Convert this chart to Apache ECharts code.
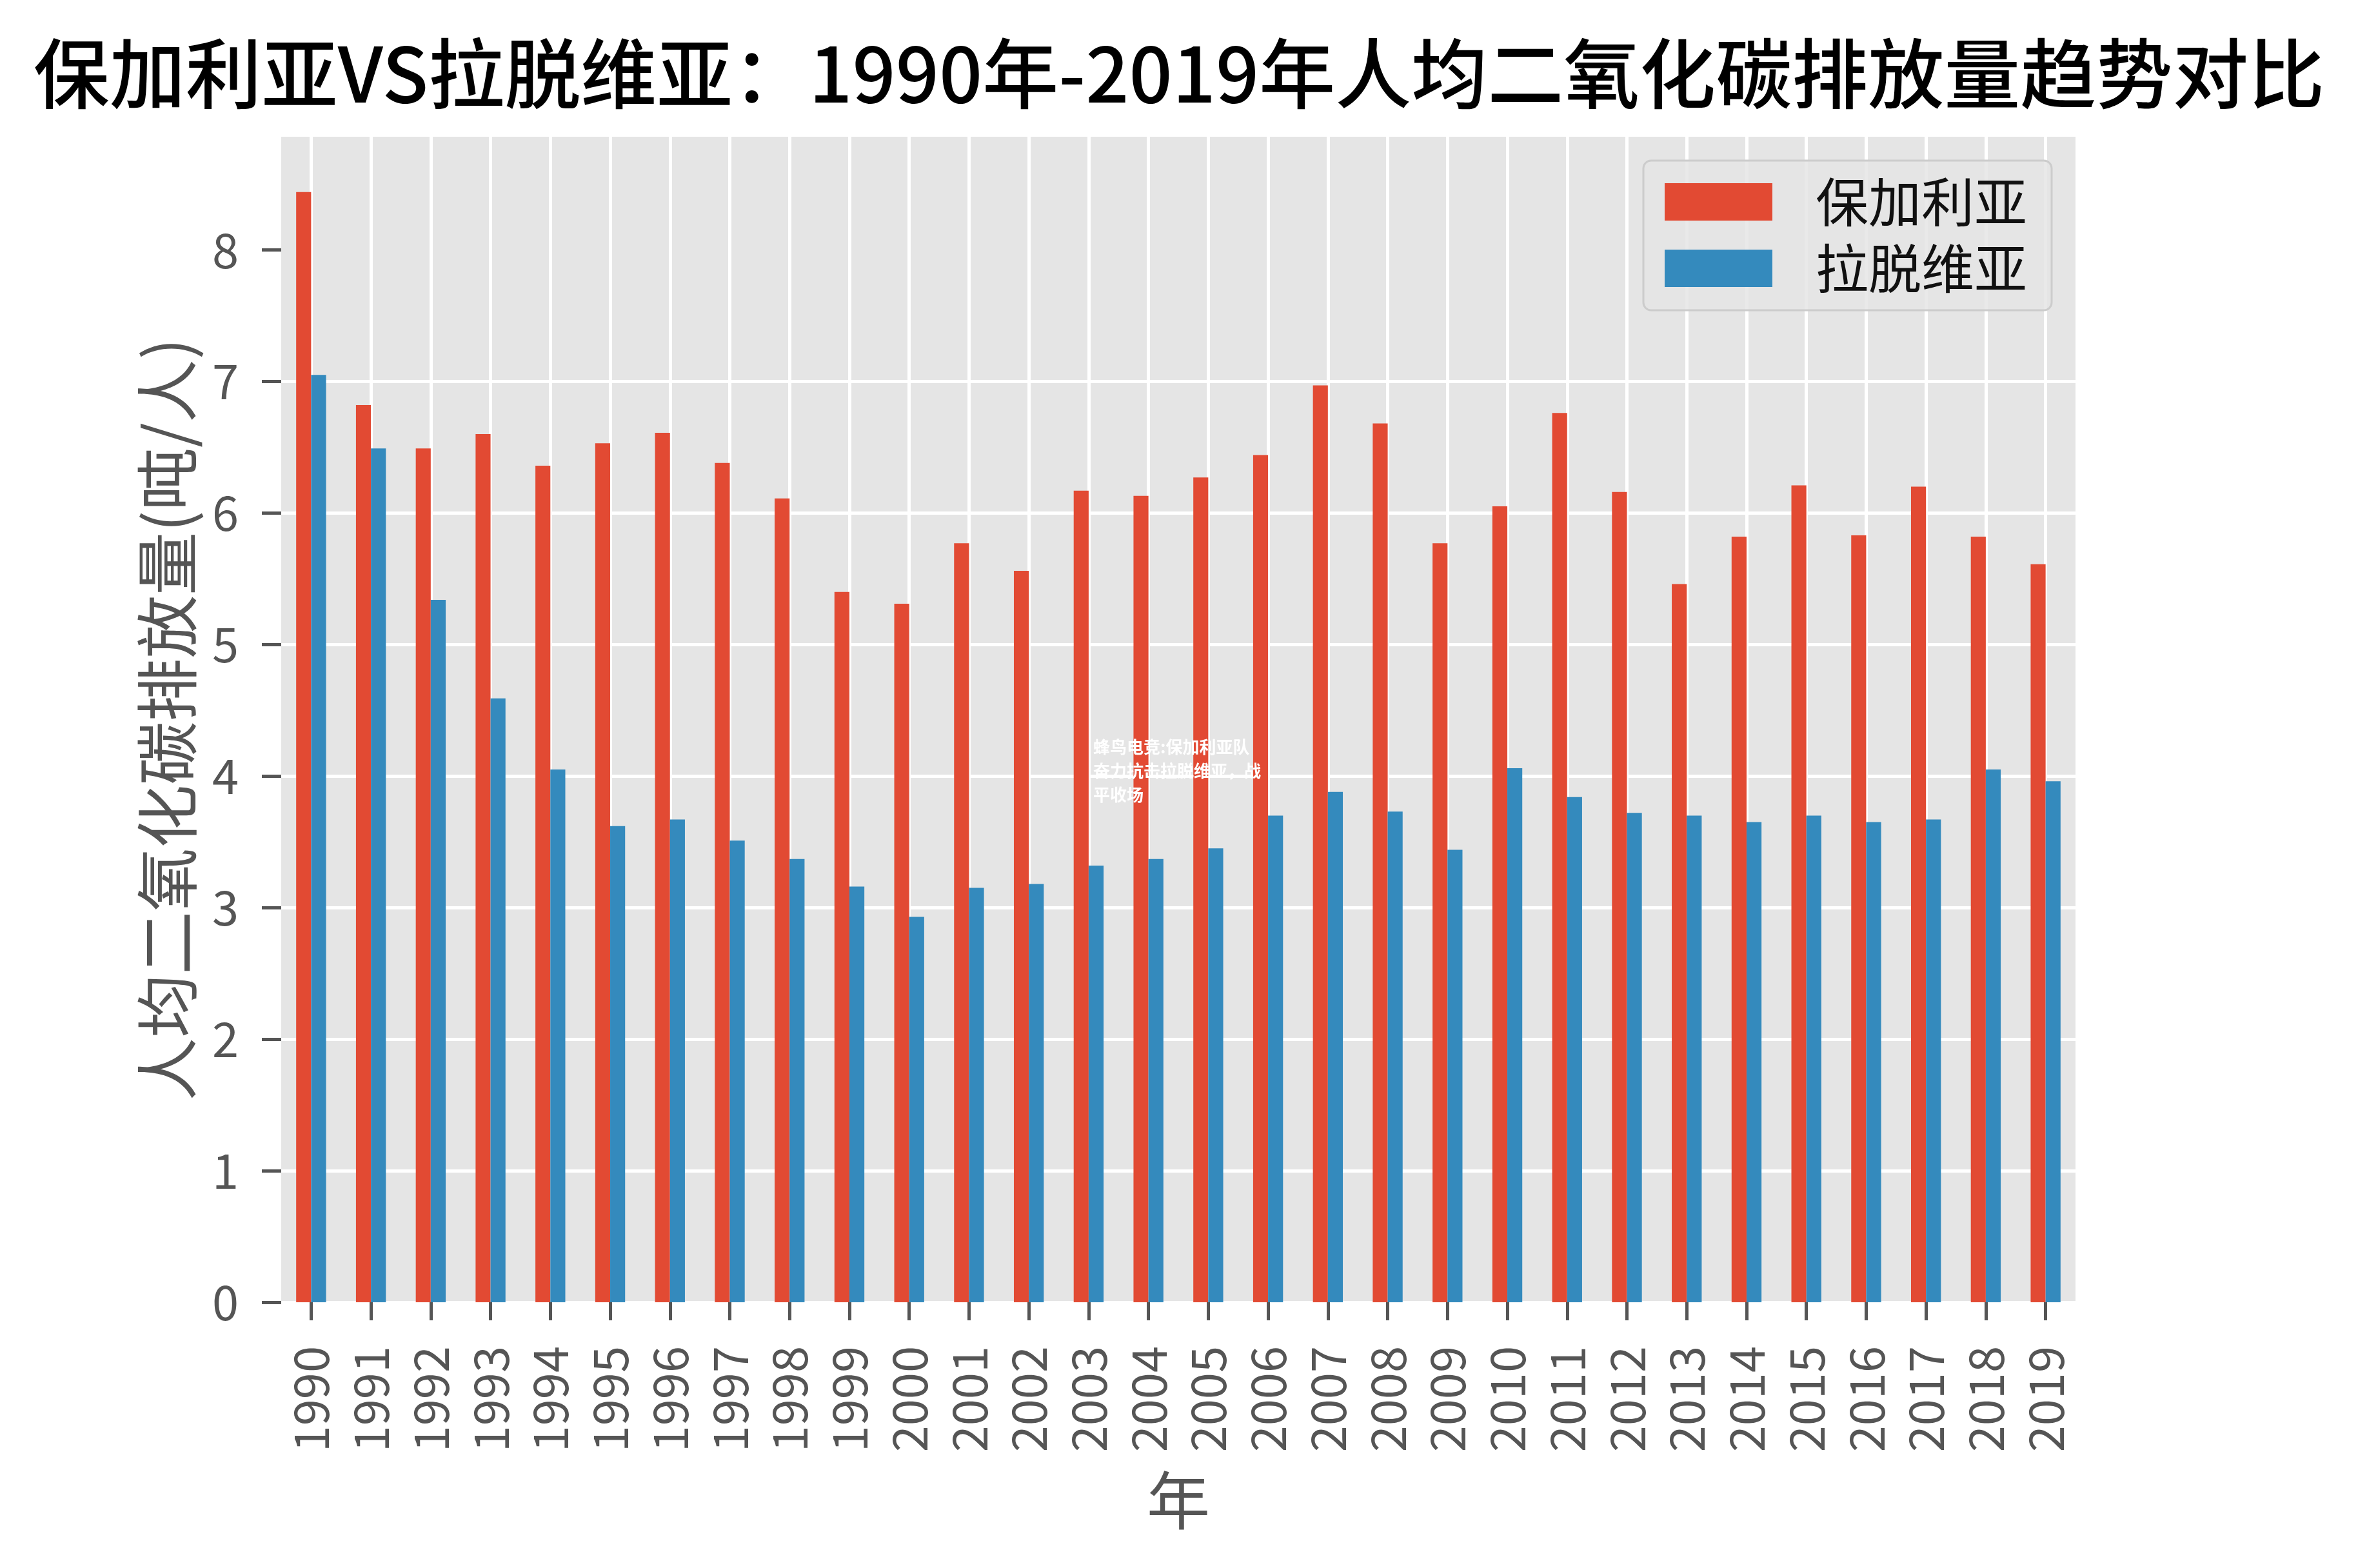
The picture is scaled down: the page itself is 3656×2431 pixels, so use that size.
<!DOCTYPE html>
<html>
<head>
<meta charset="utf-8">
<script src="https://cdn.jsdelivr.net/npm/echarts@6/dist/echarts.min.js"></script>
<style>
html,body{margin:0;padding:0;background:#fff;}
#chart{width:3656px;height:2431px;}
</style>
</head>
<body>
<div id="chart"></div>
<script>
const years = ['1990','1991','1992','1993','1994','1995','1996','1997','1998','1999',
  '2000','2001','2002','2003','2004','2005','2006','2007','2008','2009',
  '2010','2011','2012','2013','2014','2015','2016','2017','2018','2019'];
const bulgaria = [8.44,6.82,6.49,6.60,6.36,6.53,6.61,6.38,6.11,5.40,
  5.31,5.77,5.56,6.17,6.13,6.27,6.44,6.97,6.68,5.77,
  6.05,6.76,6.16,5.46,5.82,6.21,5.83,6.20,5.82,5.61];
const latvia = [7.05,6.49,5.34,4.59,4.05,3.62,3.67,3.51,3.37,3.16,
  2.93,3.15,3.18,3.32,3.37,3.45,3.70,3.88,3.73,3.44,
  4.06,3.84,3.72,3.70,3.65,3.70,3.65,3.67,4.05,3.96];
const yTicks = [0,1,2,3,4,5,6,7,8];
const seriesNames = ['保加利亚','拉脱维亚'];
const titleText = '保加利亚VS拉脱维亚：1990年-2019年人均二氧化碳排放量趋势对比';
const yName = '人均二氧化碳排放量(吨/人)';
const xName = '年';
const noteText = '蜂鸟电竞:保加利亚队\n奋力抗击拉脱维亚，战\n平收场';

const FONT = '"Noto Sans CJK SC", sans-serif';
const chart = echarts.init(document.getElementById('chart'));
chart.setOption({
  animation: false,
  backgroundColor: '#ffffff',
  textStyle: {fontFamily: FONT},
  title: {
    text: titleText,
    left: 'center',
    top: 50,
    textStyle: {fontSize: 118, fontWeight: 500, color: '#000000', fontFamily: FONT}
  },
  grid: {left: 436, right: 438, top: 212, bottom: 412, show: true, backgroundColor: '#E5E5E5', borderWidth: 0},
  legend: {
    orient: 'vertical',
    left: 2548,
    top: 249,
    itemWidth: 167,
    itemHeight: 58,
    itemGap: 21,
    padding: [23, 38, 24, 33],
    backgroundColor: 'rgba(229,229,229,0.85)',
    borderColor: '#cccccc',
    borderWidth: 3,
    borderRadius: 12,
    icon: 'rect',
    textStyle: {fontSize: 82, color: '#111111', fontFamily: FONT, padding: [0, 0, 0, 62]},
    data: seriesNames
  },
  xAxis: {
    type: 'category',
    data: years,
    name: xName,
    nameLocation: 'middle',
    nameGap: 258,
    nameTextStyle: {fontSize: 98, color: '#555555', fontFamily: FONT},
    axisLine: {show: false},
    axisTick: {show: true, interval: 0, alignWithLabel: true, length: 28, lineStyle: {color: '#555555', width: 5}},
    axisLabel: {interval: 0, rotate: 90, fontSize: 74, color: '#555555', margin: 68, fontFamily: FONT},
    splitLine: {show: true, interval: 0, alignWithLabel: true, lineStyle: {color: '#ffffff', width: 5}}
  },
  yAxis: {
    type: 'value',
    min: 0,
    max: 8.86,
    interval: 1,
    name: yName,
    nameLocation: 'middle',
    nameGap: 128,
    nameRotate: 90,
    nameTextStyle: {fontSize: 98, color: '#555555', fontFamily: FONT},
    axisLine: {show: false},
    axisTick: {show: true, length: 30, customValues: yTicks, lineStyle: {color: '#555555', width: 5}},
    axisLabel: {fontSize: 74, color: '#555555', margin: 66, customValues: yTicks, fontFamily: FONT},
    splitLine: {show: true, showMaxLine: false, lineStyle: {color: '#ffffff', width: 5}}
  },
  series: [
    {name: seriesNames[0], type: 'bar', data: bulgaria, barWidth: '25%', barGap: '0%',
     itemStyle: {color: '#E24A33'}},
    {name: seriesNames[1], type: 'bar', data: latvia, barWidth: '25%', barGap: '0%',
     itemStyle: {color: '#348ABD'}}
  ],
  graphic: [{
    type: 'text',
    left: 1695,
    top: 1140,
    z: 100,
    style: {text: noteText, fill: '#ffffff', font: 'bold 26px "Noto Sans CJK SC"', lineHeight: 37}
  }]
});
</script>
</body>
</html>
